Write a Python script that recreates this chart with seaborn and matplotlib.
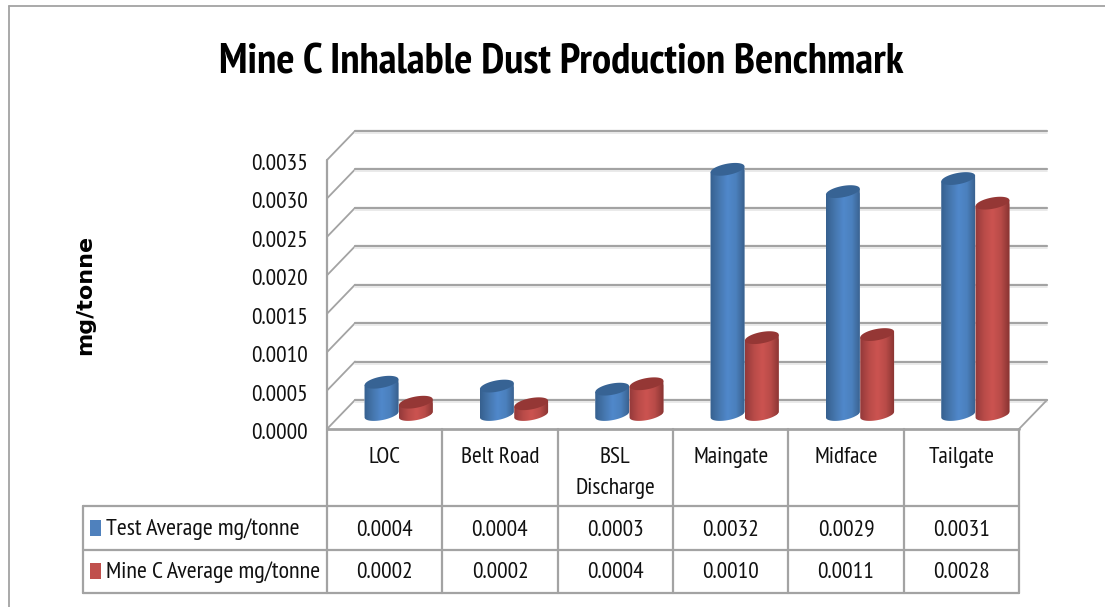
import numpy as np
import pandas as pd
import matplotlib
matplotlib.use('Agg')
import matplotlib.pyplot as plt
from matplotlib.colors import LinearSegmentedColormap
from matplotlib.patches import Polygon
from matplotlib.transforms import ScaledTranslation
import seaborn as sns

categories = ['LOC', 'Belt Road', 'BSL\nDischarge', 'Maingate', 'Midface', 'Tailgate']
series_names = ['Test Average mg/tonne', 'Mine C Average mg/tonne']
test_values = [0.00042, 0.00037, 0.00033, 0.00319, 0.00290, 0.00307]
mine_values = [0.00016, 0.00014, 0.00040, 0.00100, 0.00104, 0.00275]
test_labels = ['0.0004', '0.0004', '0.0003', '0.0032', '0.0029', '0.0031']
mine_labels = ['0.0002', '0.0002', '0.0004', '0.0010', '0.0011', '0.0028']
y_ticks = [0.0, 0.0005, 0.0010, 0.0015, 0.0020, 0.0025, 0.0030, 0.0035]

W, H = 1105, 607
NARROW = ['PT Sans Narrow', 'Lato']
GRID = '#a3a3a3'
BLUE = '#4f81bd'
RED = '#c0504d'
TEXT = '#111111'
FS = 16.8


def px_axes(fig, x0, x1, y_top, y_bottom, **kws):
    return fig.add_axes([x0 / W, 1 - y_bottom / H, (x1 - x0) / W, (y_bottom - y_top) / H], **kws)


def cylinder_outline(cx, base, top, a, b, theta, sx, sy):
    # silhouette of a tilted cylinder, a and b in pixels, cx/base/top in data units
    t0 = np.arctan2(-b * np.sin(theta), a * np.cos(theta))
    t = np.linspace(t0 - np.pi, t0, 40)
    ex = a * np.cos(t) * np.cos(theta) - b * np.sin(t) * np.sin(theta)
    ey = a * np.cos(t) * np.sin(theta) + b * np.sin(t) * np.cos(theta)
    xs = np.r_[cx + ex[0] / sx, cx + ex / sx, cx + ex[-1] / sx]
    ys = np.r_[top + ey[0] / sy, base + ey / sy, top + ey[-1] / sy]
    return np.column_stack([xs, ys])


def top_ellipse(cx, top, a, b, theta, sx, sy):
    t = np.linspace(0, 2 * np.pi, 60)
    ex = a * np.cos(t) * np.cos(theta) - b * np.sin(t) * np.sin(theta)
    ey = a * np.cos(t) * np.sin(theta) + b * np.sin(t) * np.cos(theta)
    return np.column_stack([cx + ex / sx, top + ey / sy])


sns.set_theme(style='white')
plt.rcParams['font.family'] = NARROW
fig = plt.figure(figsize=(W / 100, H / 100), dpi=100)

# page overlay for the frame and the data table
page = px_axes(fig, 0, W, 0, H)
page.set_xlim(0, W)
page.set_ylim(H, 0)
page.axis('off')
page.plot([9, 9], [607, 6], color=GRID, lw=1.3)
page.plot([9, 1105], [6, 6], color=GRID, lw=1.3)

left, right = 327, 1019
col_w = (right - left) / 6
row_y = [506, 550, 593]
for y in row_y:
    page.plot([83, right], [y, y], color=GRID, lw=1.6)
page.plot([83, 83], [row_y[0], row_y[2]], color=GRID, lw=1.6)
for i in range(7):
    page.plot([left + i * col_w] * 2, [429, row_y[2]], color=GRID, lw=1.6)
for i, name in enumerate(categories):
    cx = left + (i + 0.5) * col_w
    page.text(cx, 447, name, ha='center', va='top', fontsize=FS, color=TEXT, linespacing=1.65)
    page.text(cx, 530, test_labels[i], ha='center', va='center', fontsize=FS, color=TEXT)
    page.text(cx, 573, mine_labels[i], ha='center', va='center', fontsize=FS, color=TEXT)
for y, name, col in zip([528, 571], series_names, [BLUE, RED]):
    page.fill_between([90, 101], y - 8, y + 8, color=col, lw=0)
    page.text(106, y + 1, name, ha='left', va='center', fontsize=17.4, color=TEXT)

page.text(561, 63, 'Mine C Inhalable Dust Production Benchmark', ha='center', va='center',
          fontsize=31, fontweight='bold', color='black')
page.text(85, 294.5, 'mg/tonne', rotation=90, ha='center', va='center', fontsize=16,
          fontweight='bold', family='DejaVu Sans', color='black')

# front plane: value axis and the walls of the 3-D box
front = px_axes(fig, left, right, 160, 429)
front.patch.set_alpha(0)
front.set_xlim(-0.5, 5.5)
front.set_ylim(0, 0.0035)
sx = col_w
sy = 269 / 0.0035
dx, dy = 28 / sx, 29 / sy
for tick in y_ticks:
    front.plot([-0.5, -0.5 + dx], [tick, tick + dy], color=GRID, lw=1.3, clip_on=False)
    front.plot([-0.5 + dx, 5.5 + dx], [tick + dy] * 2, color=GRID, lw=1.6, clip_on=False)
    front.plot([-0.5 + dx, 5.5 + dx], [tick + dy - 2 / sy] * 2, color='#e6e6e6', lw=1.2, clip_on=False)
front.plot([5.5, 5.5 + dx], [0, dy], color=GRID, lw=1.3, clip_on=False)
front.plot([-0.5, 5.5], [0, 0], color=GRID, lw=2, clip_on=False)
front.plot([-0.5, -0.5], [0, 0.0035], color=GRID, lw=1.6, clip_on=False)
front.set_yticks(y_ticks)
front.set_yticklabels([f'{t:.4f}' for t in y_ticks], fontsize=FS, color=TEXT)
front.set_xticks([])
front.tick_params(axis='y', length=0, pad=13.5)
nudge = ScaledTranslation(0, -2 / 100, fig.dpi_scale_trans)
for lab in front.get_yticklabels():
    lab.set_transform(lab.get_transform() + nudge)
sns.despine(ax=front, left=True, bottom=True)

# bar plane sits half way into the box
bars = px_axes(fig, left + 14, right + 14, 145.5, 414.5)
bars.patch.set_alpha(0)
df = pd.DataFrame({
    'category': categories * 2,
    'series': [series_names[0]] * 6 + [series_names[1]] * 6,
    'value': test_values + mine_values,
})
sns.barplot(data=df, x='category', y='value', hue='series', hue_order=series_names, order=categories,
            palette=[BLUE, RED], width=0.595, gap=0, legend=False, ax=bars)
bars.set_xlim(-0.5, 5.5)
bars.set_ylim(0, 0.0035)
bars.axis('off')

cmaps = {
    0: LinearSegmentedColormap.from_list('b', ['#36608f', '#4576ad', '#5088cb', '#4b80bd', '#385f8c']),
    1: LinearSegmentedColormap.from_list('r', ['#93393a', '#b84b48', '#cc5350', '#b84b48', '#873331']),
}
tops = {0: '#376394', 1: '#953735'}
theta = np.deg2rad(11)
a, b = 17.2, 5.6
for k, container in enumerate(bars.containers):
    for rect in container:
        x0 = rect.get_x()
        w = rect.get_width()
        val = rect.get_height()
        cx = x0 + w / 2
        outline = cylinder_outline(cx, 0, val, a, b, theta, sx, sy)
        shape = Polygon(outline, closed=True, transform=bars.transData, fc='none', ec='none', clip_on=False)
        bars.add_patch(shape)
        rect.set_clip_box(fig.bbox)
        rect.set_clip_path(shape)
        im = bars.imshow(np.linspace(0, 1, 64).reshape(1, -1), cmap=cmaps[k], aspect='auto',
                         extent=[x0, x0 + w, outline[:, 1].min(), outline[:, 1].max()],
                         zorder=2 + k, interpolation='bilinear')
        # images fall back to the axes box when the clip box is empty, so give them the figure's
        im.set_clip_box(fig.bbox)
        im.set_clip_path(shape)
        bars.add_patch(Polygon(top_ellipse(cx, val, a, b, theta, sx, sy), closed=True, fc=tops[k],
                               ec='none', zorder=2.5 + k, clip_on=False))
bars.set_xlim(-0.5, 5.5)
bars.set_ylim(0, 0.0035)

fig.savefig('out.png', dpi=100)
